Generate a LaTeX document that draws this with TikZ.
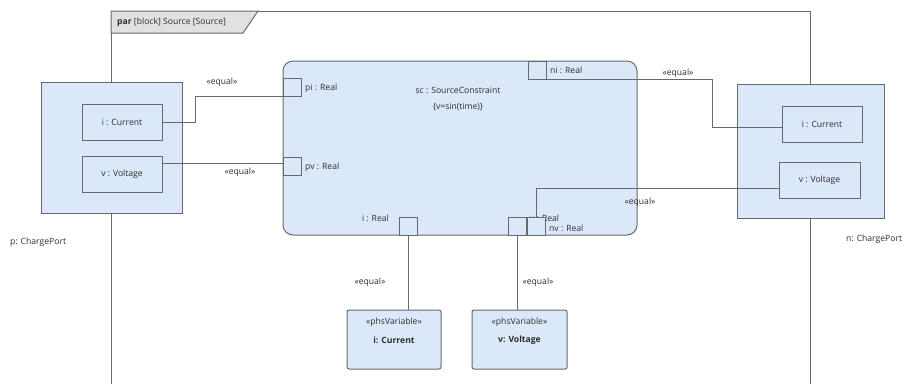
\documentclass[tikz,border=0pt]{standalone}
\usepackage{fontspec}
\setmainfont{Open Sans}
\definecolor{blk}{RGB}{219,232,250}
\definecolor{ln}{RGB}{105,105,105}
\definecolor{txt}{RGB}{45,45,45}
\definecolor{tabfill}{RGB}{225,225,225}
\begin{document}
\begin{tikzpicture}[x=1pt,y=-1pt,
  every node/.style={font=\fontsize{8.6}{10}\selectfont, text=txt, inner sep=0pt},
  box/.style={draw=ln, line width=1pt, fill=blk, rectangle},
  port/.style={draw=ln, line width=1pt, fill=blk, rectangle, minimum width=18pt, minimum height=18pt},
  conn/.style={draw=ln, line width=1pt},
  lbl/.style={anchor=center}
]
\useasboundingbox (0,0) rectangle (917,384);
% frame
\draw[ln, line width=1pt] (111,384) -- (111,11) -- (810,11) -- (810,384);
\filldraw[draw=ln, fill=tabfill, line width=1pt] (111,11) -- (258,11) -- (243,33) -- (111,33) -- cycle;
\node[anchor=west] (title) at (117,22) {\textbf{par} [block] Source [Source]};

% p port
\node[box, minimum width=141pt, minimum height=131pt] (p) at (111.5,147.5) {};
\node[box, minimum width=80pt, minimum height=36pt] (pI) at (122,122) {i : Current};
\node[box, minimum width=80pt, minimum height=36pt] (pV) at (122,174) {v : Voltage};
\node[anchor=west] (plbl) at (10,242) {p: ChargePort};

% n port
\node[box, minimum width=147pt, minimum height=134pt] (n) at (810.5,151) {};
\node[box, minimum width=80pt, minimum height=36pt] (nI) at (822,124) {i : Current};
\node[box, minimum width=81pt, minimum height=36pt] (nV) at (819.5,180) {v : Voltage};
\node[anchor=west] (nlbl) at (846,239) {n: ChargePort};

% constraint block
\node[box, rounded corners=10pt, minimum width=354pt, minimum height=174pt] (sc) at (460,148) {};
\node (sct) at (458,90) {sc : SourceConstraint};
\node (scc) at (458,107) {\{v=sin(time)\}};

% port labels
\node[anchor=west] (vlbl) at (530,218) {v : Real};
\node[port] (pi) at (292.5,87) {};
\node[port] (pv) at (292.5,166) {};
\node[port] (ni) at (537,70) {};
\node[port] (ip) at (408,226) {};
\node[port] (vp) at (517.5,226) {};
\node[port] (nv) at (536.5,226) {};
\node[anchor=west] (pil) at (305,88) {pi : Real};
\node[anchor=west] (pvl) at (305,167) {pv : Real};
\node[anchor=west] (nil) at (550,70) {ni : Real};
\node[anchor=east] (il) at (389,218) {i : Real};
\node[anchor=west] (nvl) at (549,228) {nv : Real};

% phsVariables
\node[box, rounded corners=2pt, minimum width=94pt, minimum height=59pt] (phsI) at (394,339.5) {};
\node (phsIs) at (394,322) {«phsVariable»};
\node (phsIn) at (394,340) {\textbf{i: Current}};
\node[box, rounded corners=2pt, minimum width=95pt, minimum height=59pt] (phsV) at (519.5,339.5) {};
\node (phsVs) at (519.5,322) {«phsVariable»};
\node (phsVn) at (519.5,340) {\textbf{v: Voltage}};

% connectors
\draw[conn] (pI.east) -- ++(33,0) |- (pi.south west);
\draw[conn] ([yshift=3pt]pv.west) -- ([yshift=3pt]pv.west -| pV.east);
\draw[conn] (ni.south west) -- ++(185,0) |- ([yshift=-3pt]nI.west);
\draw[conn] (nv.north) |- ([yshift=-8pt]nV.west);
\draw[conn] (ip.south) -- (ip.south |- phsI.north);
\draw[conn] (vp.south) -- (vp.south |- phsV.north);

% equal labels
\node (e1) at (222,82) {«equal»};
\node (e2) at (240,172) {«equal»};
\node (e3) at (678,73) {«equal»};
\node (e4) at (640,202) {«equal»};
\node (e5) at (370,282) {«equal»};
\node (e6) at (538,282) {«equal»};
\end{tikzpicture}
\end{document}
